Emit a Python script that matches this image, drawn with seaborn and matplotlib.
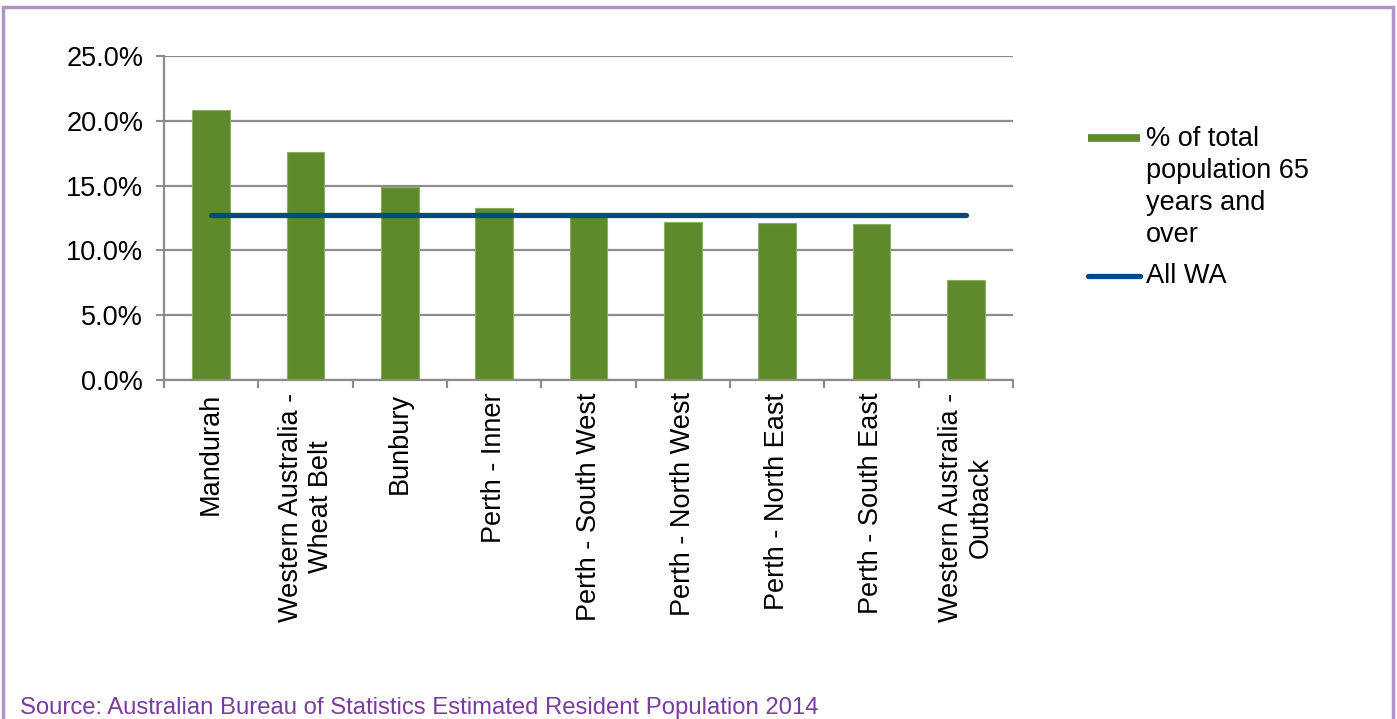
import matplotlib
matplotlib.use("Agg")
import matplotlib.pyplot as plt
import seaborn as sns
import pandas as pd
from matplotlib.lines import Line2D
from matplotlib.patches import Rectangle
from matplotlib.ticker import FixedLocator, FuncFormatter

# Share of residents aged 65+ by WA region, 2014
regions = [
    "Mandurah",
    "Western Australia -\nWheat Belt",
    "Bunbury",
    "Perth - Inner",
    "Perth - South West",
    "Perth - North West",
    "Perth - North East",
    "Perth - South East",
    "Western Australia -\nOutback",
]
pct_65_plus = [20.8, 17.6, 14.9, 13.3, 12.8, 12.2, 12.1, 12.0, 7.7]
all_wa = 12.7

bar_label = "% of total\npopulation 65\nyears and\nover"
line_label = "All WA"
source_note = "Source: Australian Bureau of Statistics Estimated Resident Population 2014"

GREEN = "#5E8A2B"
NAVY = "#004A8C"
GRID = "#8C8C8C"
PURPLE_TEXT = "#7A3C9E"
PURPLE_FRAME = "#B093C9"
FS = 19.5

sns.set_theme(style="white")
plt.rcParams["font.family"] = ["Liberation Sans", "DejaVu Sans"]

W, H = 1397, 719
fig = plt.figure(figsize=(W / 100, H / 100), dpi=100)
ax = fig.add_axes([164 / W, 1 - 380 / H, (1013 - 164) / W, (380 - 56) / H])

df = pd.DataFrame({"region": regions, "pct": pct_65_plus, "wa": [all_wa] * len(regions)})

sns.barplot(data=df, x="region", y="pct", color=GREEN, width=0.4,
            edgecolor="#8DAE66", linewidth=0.8, saturation=1, ax=ax, zorder=2)
sns.lineplot(data=df, x="region", y="wa", color=NAVY, linewidth=3.8,
             solid_capstyle="round", ax=ax, zorder=3, legend=False)

ax.set_ylim(0, 25)
ax.set_xlim(-0.5, len(regions) - 0.5)
ax.set_yticks([0, 5, 10, 15, 20, 25])
ax.yaxis.set_major_formatter(FuncFormatter(lambda v, p: f"{v:.1f}%"))
ax.yaxis.grid(True, color=GRID, linewidth=1.6, zorder=0)
ax.set_axisbelow(True)
ax.set_xlabel("")
ax.set_ylabel("")

for side in ["top", "right"]:
    ax.spines[side].set_visible(False)
for side in ["left", "bottom"]:
    ax.spines[side].set_color(GRID)
    ax.spines[side].set_linewidth(1.6)

ax.tick_params(axis="y", which="major", direction="out", length=6, width=1.5,
               color=GRID, left=True, labelsize=FS, labelcolor="black", pad=9)
ax.tick_params(axis="x", which="major", length=0, labelsize=FS,
               labelcolor="black", pad=9)
ax.xaxis.set_minor_locator(FixedLocator([i - 0.5 for i in range(len(regions) + 1)]))
ax.tick_params(axis="x", which="minor", direction="out", length=6, width=1.5,
               color=GRID, bottom=True)
for lbl in ax.get_xticklabels():
    lbl.set_rotation(90)
    lbl.set_ha("center")
    lbl.set_va("top")
    lbl.set_multialignment("center")

# Legend entries, each marker aligned with the first line of its text
def px(x, y):
    return x / W, 1 - y / H

fig.add_artist(Line2D([px(1088, 0)[0], px(1140, 0)[0]], [px(0, 138)[1]] * 2,
                      color=GREEN, linewidth=5.5, solid_capstyle="butt"))
fig.text(*px(1146, 126), bar_label, fontsize=FS, va="top", ha="left",
         linespacing=1.3, color="black")
fig.add_artist(Line2D([px(1088, 0)[0], px(1140, 0)[0]], [px(0, 276)[1]] * 2,
                      color=NAVY, linewidth=3.8, solid_capstyle="round"))
fig.text(*px(1146, 276), line_label, fontsize=FS, va="center", ha="left",
         color="black")

fig.text(*px(20, 708), source_note, fontsize=17.2, va="center", ha="left",
         color=PURPLE_TEXT)

# Light purple frame round the chart
fig.add_artist(Rectangle((3 / W, -0.02), (1393 - 3) / W, 1.02 - 7 / H,
                         transform=fig.transFigure, fill=False,
                         edgecolor=PURPLE_FRAME, linewidth=2.5))

fig.savefig("out.png", dpi=100)
